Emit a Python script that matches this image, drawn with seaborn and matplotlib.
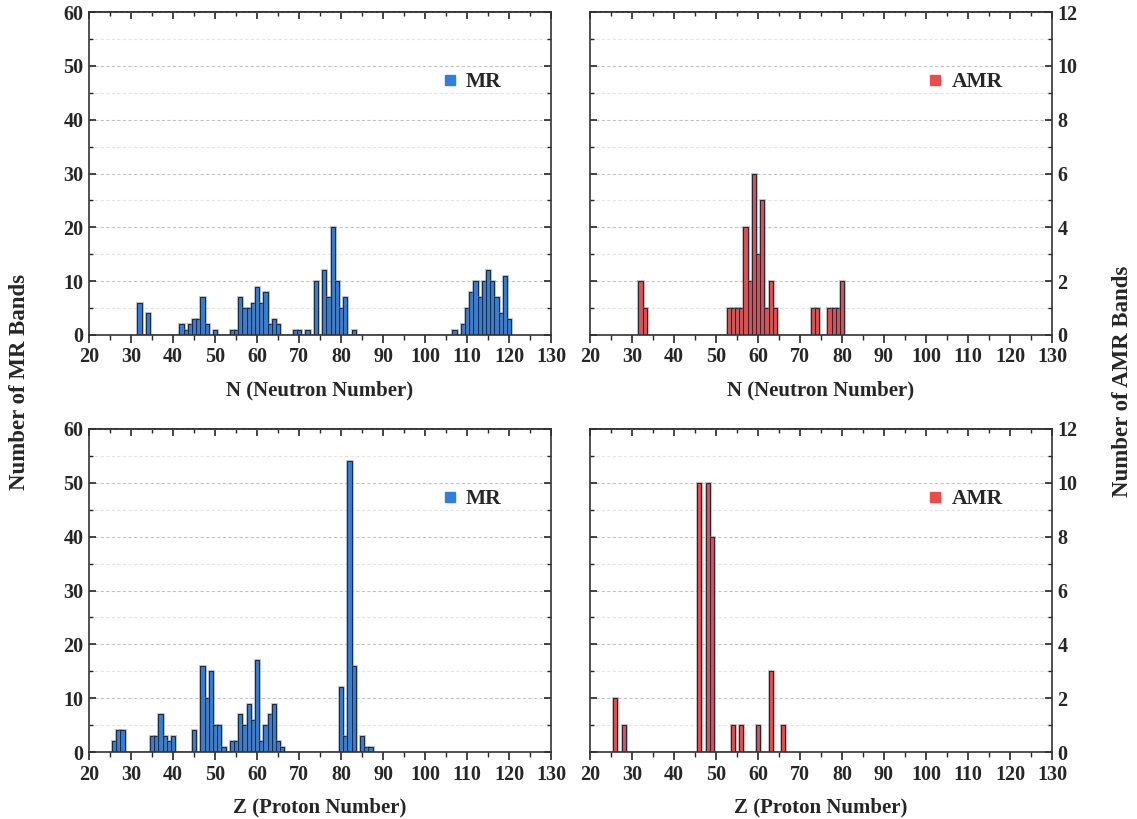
import matplotlib
matplotlib.use('Agg')
import matplotlib.pyplot as plt
import matplotlib.patheffects as pe
from matplotlib.lines import Line2D
from matplotlib.ticker import MultipleLocator
import seaborn as sns

# counts of bands per N / Z
n_mr = [32, 34, 42, 43, 44, 45, 46, 47, 48, 50, 54, 55, 56, 57, 58, 59, 60, 61, 62, 63, 64, 65,
        69, 70, 72, 74, 76, 77, 78, 79, 80, 81, 83,
        107, 109, 110, 111, 112, 113, 114, 115, 116, 117, 118, 119, 120]
n_mr_count = [6, 4, 2, 1, 2, 3, 3, 7, 2, 1, 1, 1, 7, 5, 5, 6, 9, 6, 8, 2, 3, 2,
              1, 1, 1, 10, 12, 7, 20, 10, 5, 7, 1,
              1, 2, 5, 8, 10, 7, 10, 12, 10, 7, 4, 11, 3]

n_amr = [32, 33, 53, 54, 55, 56, 57, 58, 59, 60, 61, 62, 63, 64, 73, 74, 77, 78, 79, 80]
n_amr_count = [2, 1, 1, 1, 1, 1, 4, 2, 6, 3, 5, 1, 2, 1, 1, 1, 1, 1, 1, 2]

z_mr = [26, 27, 28, 35, 36, 37, 38, 39, 40, 45, 47, 48, 49, 50, 51, 52,
        54, 55, 56, 57, 58, 59, 60, 61, 62, 63, 64, 65, 66,
        80, 81, 82, 83, 85, 86, 87]
z_mr_count = [2, 4, 4, 3, 3, 7, 3, 2, 3, 4, 16, 10, 15, 5, 5, 1,
              2, 2, 7, 5, 9, 6, 17, 2, 5, 7, 9, 2, 1,
              12, 3, 54, 16, 3, 1, 1]

z_amr = [26, 28, 46, 48, 49, 54, 56, 60, 63, 66]
z_amr_count = [2, 1, 10, 10, 8, 1, 1, 1, 3, 1]

blue = '#2f7fe0'
red = '#ef4a4a'

sns.set_style('ticks')
plt.rcParams['font.family'] = ['Liberation Serif', 'DejaVu Serif']
plt.rcParams['font.weight'] = 'bold'

fig = plt.figure(figsize=(11.37, 8.19), dpi=100)

W = 462 / 1137
H = 323 / 819
pos = {
    'tl': [89 / 1137, 1 - 335 / 819, W, H],
    'tr': [590 / 1137, 1 - 335 / 819, W, H],
    'bl': [89 / 1137, 1 - 752 / 819, W, H],
    'br': [590 / 1137, 1 - 752 / 819, W, H],
}

panels = [
    ('tl', n_mr, n_mr_count, blue, 'MR', 'N (Neutron Number)', False),
    ('tr', n_amr, n_amr_count, red, 'AMR', 'N (Neutron Number)', True),
    ('bl', z_mr, z_mr_count, blue, 'MR', 'Z (Proton Number)', False),
    ('br', z_amr, z_amr_count, red, 'AMR', 'Z (Proton Number)', True),
]

halo = [pe.Stroke(linewidth=2.2, foreground='#888888', alpha=0.45), pe.Normal()]

for key, xs, cnt, col, lab, xlab, right in panels:
    ax = fig.add_axes(pos[key])
    sns.histplot(x=xs, weights=cnt, discrete=True, color=col, alpha=1,
                 edgecolor='#1f2a3a', linewidth=0.8, ax=ax)
    for p in ax.patches:
        p.set_path_effects(halo)

    ax.set_xlim(20, 130)
    ax.xaxis.set_major_locator(MultipleLocator(10))
    ax.xaxis.set_minor_locator(MultipleLocator(5))
    if right:
        ax.set_ylim(0, 12)
        ax.yaxis.set_major_locator(MultipleLocator(2))
        ax.yaxis.set_minor_locator(MultipleLocator(1))
    else:
        ax.set_ylim(0, 60)
        ax.yaxis.set_major_locator(MultipleLocator(10))
        ax.yaxis.set_minor_locator(MultipleLocator(5))

    ax.grid(axis='y', which='major', color='#c4c4c4', linestyle=(0, (3, 2)), linewidth=0.8)
    ax.grid(axis='y', which='minor', color='#e4e4e4', linestyle=(0, (3, 2)), linewidth=0.8)
    ax.grid(axis='x', visible=False)
    ax.set_axisbelow(True)

    for s in ax.spines.values():
        s.set_visible(True)
        s.set_color('#333333')
        s.set_linewidth(1.2)

    ax.tick_params(axis='x', which='major', direction='out', length=6, width=1.2,
                   labelsize=14.5, pad=3, top=False)
    ax.tick_params(axis='x', which='minor', direction='out', length=3.5, width=1.0, top=False)
    ax.tick_params(axis='y', which='major', direction='in', length=5, width=1.2,
                   labelsize=14.5, left=True, right=True,
                   labelleft=not right, labelright=right, pad=4)
    ax.tick_params(axis='y', which='minor', direction='in', length=3, width=1.0,
                   left=True, right=True)
    # inward ticks along the top edge
    sec = ax.secondary_xaxis('top')
    sec.xaxis.set_major_locator(MultipleLocator(10))
    sec.xaxis.set_minor_locator(MultipleLocator(5))
    sec.tick_params(which='major', direction='in', length=5, width=1.2, labeltop=False)
    sec.tick_params(which='minor', direction='in', length=3, width=1.0)
    sec.spines['top'].set_color('#333333')
    sec.spines['top'].set_linewidth(1.2)

    for t in ax.get_xticklabels() + ax.get_yticklabels():
        t.set_fontweight('bold')

    ax.set_xlabel(xlab, fontsize=15, fontweight='bold', labelpad=9)
    ax.set_ylabel('')

    handle = Line2D([], [], marker='s', linestyle='none', color=col, markersize=7)
    bx = 0.762 if not right else 0.729
    ax.legend(handles=[handle], labels=[lab], loc='center left', bbox_to_anchor=(bx, 0.783),
              frameon=False, borderaxespad=0, borderpad=0, handlelength=0.8,
              handletextpad=0.35, prop={'family': 'Liberation Serif', 'weight': 'bold', 'size': 15.5})

fig.text(0.017, 0.534, 'Number of MR Bands', rotation=90, ha='center', va='center',
         fontsize=16.5, fontweight='bold')
fig.text(0.987, 0.534, 'Number of AMR Bands', rotation=90, ha='center', va='center',
         fontsize=16.5, fontweight='bold')

fig.savefig('out.png', dpi=100)
